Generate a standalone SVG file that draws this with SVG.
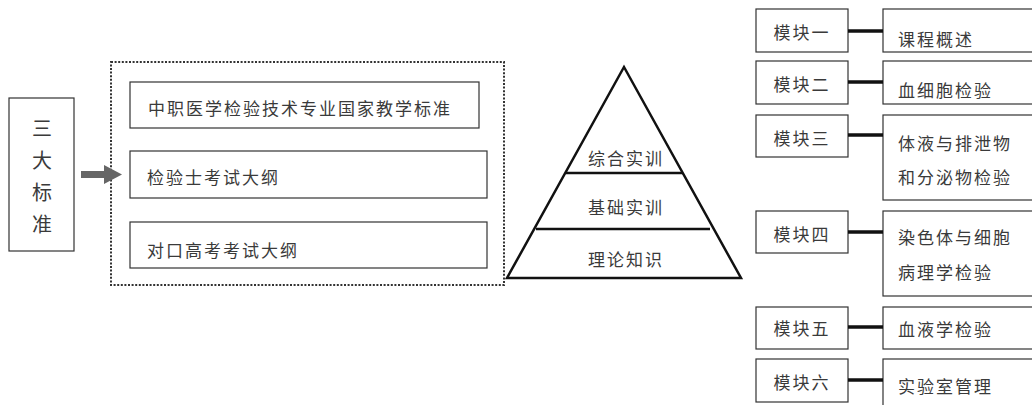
<svg xmlns="http://www.w3.org/2000/svg" width="1032" height="405" viewBox="0 0 1032 405">
<style>
.bg{fill:#fff}
.box{fill:#fff;stroke:#333;stroke-width:1.2}
.t{font-family:"Noto Sans CJK SC","Noto Sans CJK JP",sans-serif;font-size:17px;letter-spacing:2px;fill:#3a3a3a;dominant-baseline:central}
.tm{text-anchor:middle}
.big{font-size:20px;letter-spacing:0}
.dot{fill:none;stroke:#333;stroke-width:2;stroke-dasharray:2 1.6}
.pyr{fill:none;stroke:#111;stroke-width:2.5;stroke-linejoin:miter}
.conn{stroke:#111;stroke-width:3.5}
</style>
<rect class="bg" x="0" y="0" width="1032" height="405"/>
<g id="sandabiaozhun">
<rect class="box" x="9" y="98" width="65" height="153"/>
<text class="t tm big" x="42" y="127">三</text>
<text class="t tm big" x="42" y="159">大</text>
<text class="t tm big" x="42" y="191">标</text>
<text class="t tm big" x="42" y="223">准</text>
</g>
<g id="standards">
<rect class="dot" x="111" y="62" width="393" height="223"/>
<g id="std1"><rect class="box" x="130" y="82" width="349" height="46"/><text class="t" x="148" y="107">中职医学检验技术专业国家教学标准</text></g>
<g id="std2"><rect class="box" x="130" y="151" width="357" height="47"/><text class="t" x="147" y="176">检验士考试大纲</text></g>
<g id="std3"><rect class="box" x="130" y="222" width="357" height="46"/><text class="t" x="147" y="249">对口高考考试大纲</text></g>
</g>
<g id="pyramid">
<polygon class="pyr" points="624,67 741,278 507,278"/>
<line class="pyr" x1="566" y1="173" x2="683" y2="173"/>
<line class="pyr" x1="536" y1="229" x2="710" y2="229"/>
<text class="t tm" x="626" y="157">综合实训</text>
<text class="t tm" x="626" y="206">基础实训</text>
<text class="t tm" x="626" y="258">理论知识</text>
</g>
<g id="m1"><rect class="box" x="756" y="9" width="92" height="43"/><text class="t tm" x="802" y="31">模块一</text></g>
<g id="m2"><rect class="box" x="756" y="61" width="92" height="43"/><text class="t tm" x="802" y="83">模块二</text></g>
<g id="m3"><rect class="box" x="756" y="115" width="92" height="42"/><text class="t tm" x="802" y="137">模块三</text></g>
<g id="m4"><rect class="box" x="756" y="211" width="92" height="42"/><text class="t tm" x="802" y="233">模块四</text></g>
<g id="m5"><rect class="box" x="756" y="307" width="92" height="42"/><text class="t tm" x="802" y="327">模块五</text></g>
<g id="m6"><rect class="box" x="756" y="359" width="92" height="43"/><text class="t tm" x="802" y="381">模块六</text></g>
<g id="c1"><rect class="box" x="883" y="9" width="160" height="43"/><text class="t" x="898" y="38">课程概述</text></g>
<g id="c2"><rect class="box" x="883" y="61" width="160" height="43"/><text class="t" x="898" y="89">血细胞检验</text></g>
<g id="c3"><rect class="box" x="883" y="115" width="160" height="85"/><text class="t" x="898" y="142">体液与排泄物</text><text class="t" x="898" y="176">和分泌物检验</text></g>
<g id="c4"><rect class="box" x="883" y="211" width="160" height="85"/><text class="t" x="898" y="236">染色体与细胞</text><text class="t" x="898" y="271">病理学检验</text></g>
<g id="c5"><rect class="box" x="883" y="307" width="160" height="42"/><text class="t" x="898" y="328">血液学检验</text></g>
<g id="c6"><rect class="box" x="883" y="359" width="160" height="60"/><text class="t" x="898" y="385">实验室管理</text></g>
<g id="connectors">
<polygon points="81,171 104,171 104,165 122,174.5 104,184 104,178 81,178" fill="#666"/>
<line class="conn" x1="848" y1="31" x2="883" y2="31"/>
<line class="conn" x1="848" y1="82" x2="883" y2="82"/>
<line class="conn" x1="848" y1="135" x2="883" y2="135"/>
<line class="conn" x1="848" y1="232" x2="883" y2="232"/>
<line class="conn" x1="848" y1="327" x2="883" y2="327"/>
<line class="conn" x1="848" y1="380" x2="883" y2="380"/>
</g>
</svg>
